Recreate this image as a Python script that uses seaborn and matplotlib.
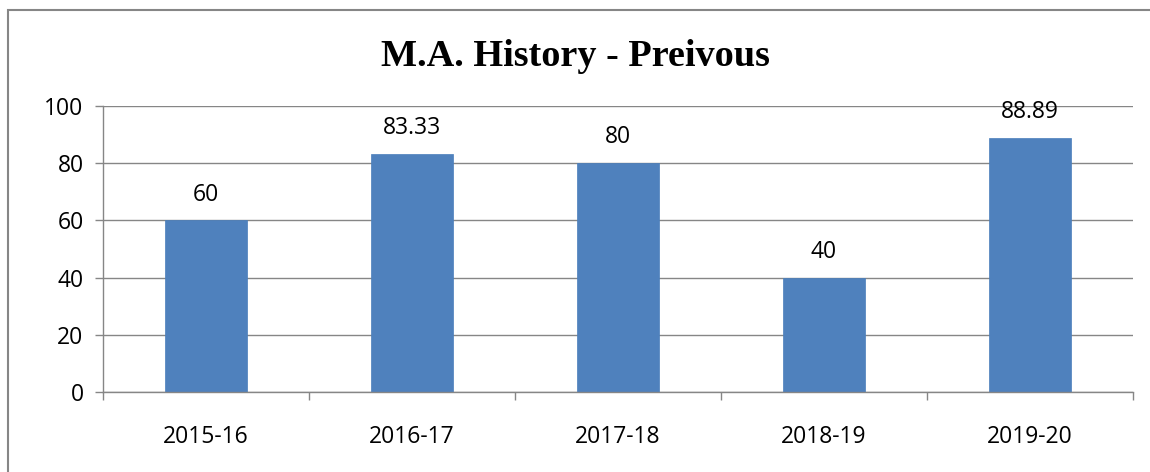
import matplotlib
matplotlib.use("Agg")
import matplotlib.pyplot as plt
import matplotlib.patches as mpatches
import pandas as pd
import seaborn as sns

years = ["2015-16", "2016-17", "2017-18", "2018-19", "2019-20"]
results = [60, 83.33, 80, 40, 88.89]
labels = ["60", "83.33", "80", "40", "88.89"]

sns.set_style("white")
plt.rcParams['font.family'] = ['Open Sans', 'DejaVu Sans']
plt.rcParams['text.color'] = 'black'
plt.rcParams['xtick.color'] = 'black'
plt.rcParams['ytick.color'] = 'black'

df = pd.DataFrame({"year": years, "result": results})

fig = plt.figure(figsize=(11.5, 4.72), dpi=100)
ax = fig.add_axes([0.0896, 0.1695, 0.8954, 0.6059])

sns.barplot(data=df, x="year", y="result", ax=ax, color="#4F81BD",
            saturation=1, width=0.4, edgecolor="#4A7EBB", linewidth=0.5)

ax.set_ylim(0, 100)
ax.set_xlim(-0.5, 4.5)
ax.set_yticks(range(0, 101, 20))
ax.yaxis.grid(True, color="#868686", linewidth=1)
ax.set_axisbelow(True)
ax.set_xlabel("")
ax.set_ylabel("")

for s in ["top", "right"]:
    ax.spines[s].set_visible(False)
for s in ["left", "bottom"]:
    ax.spines[s].set_color("#868686")
    ax.spines[s].set_linewidth(1)

# category boundary ticks like Excel
ax.set_xticks([i - 0.5 for i in range(len(years) + 1)], minor=False)
ax.set_xticklabels([])
ax.set_xticks(range(len(years)), minor=True)
ax.set_xticklabels(years, minor=True)
ax.tick_params(axis="x", which="major", bottom=True, length=6, color="#868686",
               width=1, direction="out")
ax.tick_params(axis="x", which="minor", bottom=False, length=0, labelsize=16.5,
               pad=24, labelcolor="black")
ax.tick_params(axis="y", left=True, length=6, color="#868686", width=1,
               direction="out", labelsize=16.5, pad=8, labelcolor="black")

ax.bar_label(ax.containers[0], labels=labels, padding=10, fontsize=16.5, color="black")

fig.text(0.5, 0.88, "M.A. History - Preivous", ha="center", va="center",
         fontsize=27.5, fontweight="bold", color="black",
         family=["Liberation Serif", "DejaVu Serif"])

fig.patches.append(mpatches.Rectangle((8 / 1150, -0.1), 1.5, 1 - 10 / 472 + 0.1,
                                      transform=fig.transFigure, fill=False,
                                      edgecolor="#868686", linewidth=1.5))

fig.savefig("out.png", dpi=100)
